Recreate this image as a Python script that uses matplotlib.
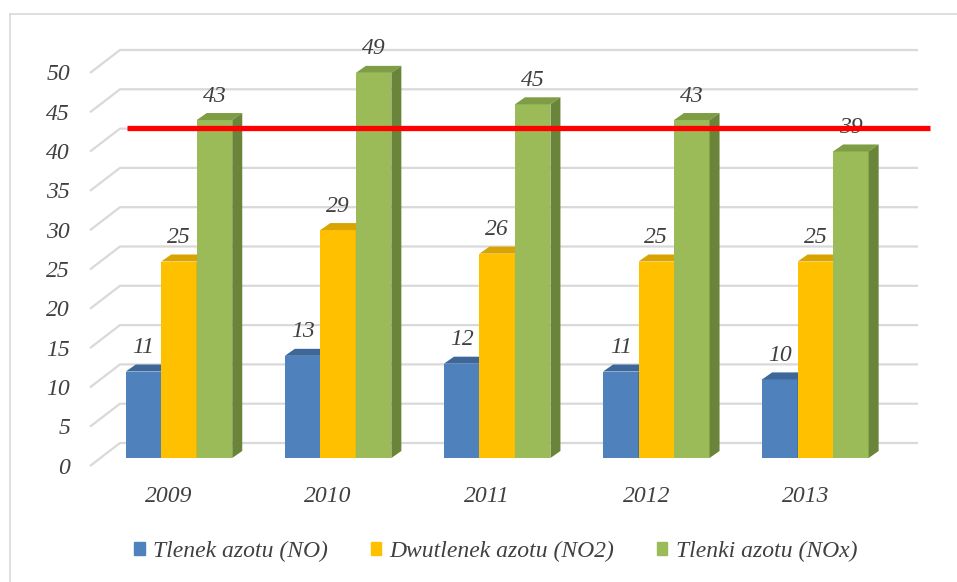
import numpy as np
import matplotlib.pyplot as plt
from matplotlib.patches import Patch
from matplotlib.lines import Line2D

years = ['2009', '2010', '2011', '2012', '2013']
no_vals = [11, 13, 12, 11, 10]
no2_vals = [25, 29, 26, 25, 25]
nox_vals = [43, 49, 45, 43, 39]
series_names = ['Tlenek azotu (NO)', 'Dwutlenek azotu (NO2)', 'Tlenki azotu (NOx)']
limit = 42
yticks = list(range(0, 55, 5))

# face / top / side colours per series
front_cols = ['#4F81BD', '#FFC000', '#9BBB59']
top_cols = ['#3C6798', '#D9A300', '#7F9D45']
side_cols = ['#34587F', '#B38600', '#6A853A']
txt_col = '#404040'
grid_col = '#D9D9D9'

plt.rcParams['font.family'] = 'Liberation Serif'
font = dict(style='italic', size=17, color=txt_col)

fig = plt.figure(figsize=(9.57, 5.82), dpi=100)
ax = fig.add_axes([0, 0, 1, 1])

# scale: pixels per unit
sx, sy = 159.1, 7.86
PX, PY = 1 / sx, 1 / sy
ax.set_xlim(-179 * PX, (957 - 179) * PX)
ax.set_ylim(-(582 - 458) * PY, 458 * PY)
ax.axis('off')

# perspective gridlines (floor edge -> back wall)
for v in yticks:
    ax.plot([-89 * PX, -59 * PX, 739 * PX], [v - 8 * PY, v + 15 * PY, v + 15 * PY],
            color=grid_col, lw=1.6, zorder=1, solid_capstyle='butt')
    ax.text(-109 * PX, v - 10 * PY, str(v), ha='right', va='center', **font)

x = np.arange(len(years))
w = 35.5 * PX
dx, dy = 10 * PX, 7 * PY

all_vals = [no_vals, no2_vals, nox_vals]
for i in range(len(years)):
    for s, vals in enumerate(all_vals):
        xc = x[i] + (s - 1) * w
        h = vals[i]
        z = 3 + s
        ax.bar(xc, h, width=w, color=front_cols[s], zorder=z, linewidth=0)
        x0, x1 = xc - w / 2, xc + w / 2
        ax.fill([x0, x0 + dx, x1 + dx, x1], [h, h + dy, h + dy, h],
                color=top_cols[s], zorder=z, lw=0)
        ax.fill([x1, x1, x1 + dx, x1 + dx], [0, h, h + dy, dy],
                color=side_cols[s], zorder=z, lw=0)
        ax.text(xc, h + 24 * PY, str(h), ha='center', va='center', zorder=8, **font)
    ax.text(x[i] - 10 * PX, -39 * PY, years[i], ha='center', va='center', **font)

# limit line
ax.plot([-52 * PX, 751 * PX], [limit, limit], color='#FF0000', lw=3.8, zorder=10,
        solid_capstyle='butt')

# chart border (left and top only, rest cropped)
fig.add_artist(Line2D([10 / 957, 10 / 957], [0, 1 - 14 / 582], color=grid_col, lw=1.2))
fig.add_artist(Line2D([10 / 957, 1], [1 - 14 / 582, 1 - 14 / 582], color=grid_col, lw=1.2))

handles = [Patch(color=c, label=n) for c, n in zip(front_cols, series_names)]
fig.legend(handles=handles, loc='center', bbox_to_anchor=(0.518, 31 / 582), ncol=3,
           frameon=False, handlelength=0.45, handleheight=0.45, handletextpad=0.35,
           columnspacing=1.8, prop=dict(family='Liberation Serif', style='italic', size=17),
           labelcolor=txt_col)

fig.savefig('out.png', dpi=100)
